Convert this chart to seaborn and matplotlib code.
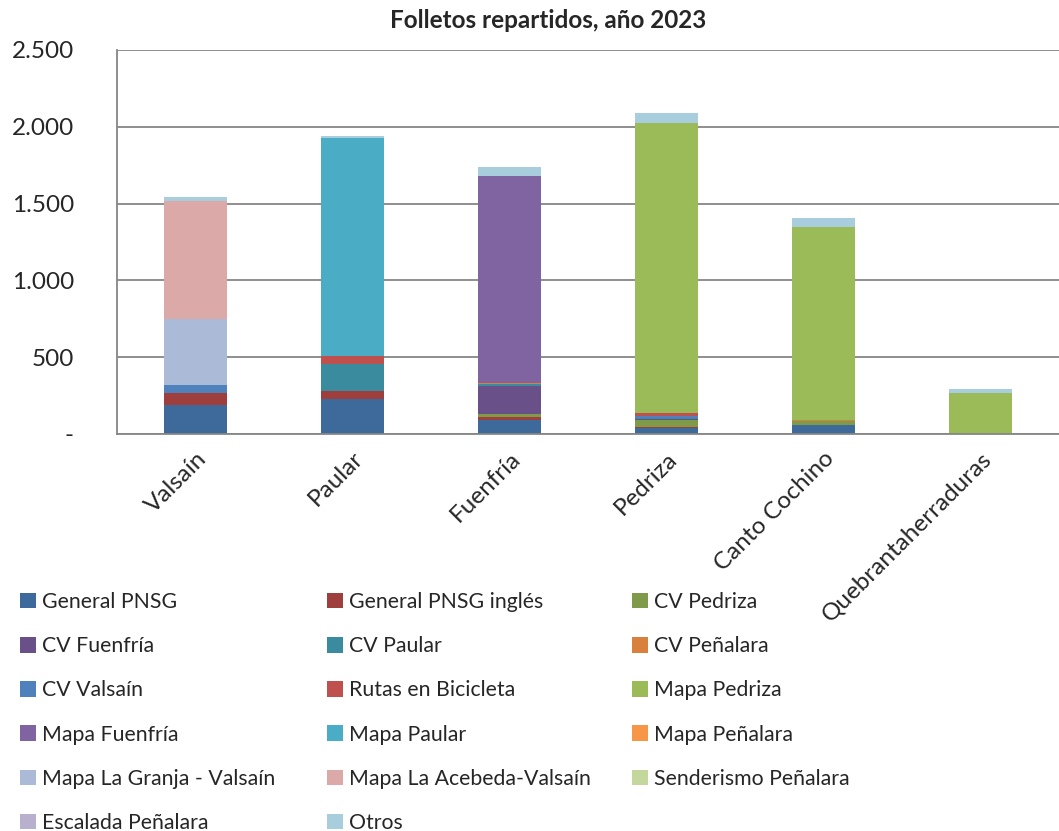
#!/usr/bin/env python3

import pandas as pd
import matplotlib
matplotlib.use("Agg")
import matplotlib.pyplot as plt
from matplotlib.patches import Patch
from matplotlib.ticker import FuncFormatter, FixedLocator
import seaborn as sns

# Data
centros = ["Valsaín", "Paular", "Fuenfría", "Pedriza", "Canto Cochino", "Quebrantaherraduras"]

general_pnsg = [192, 227, 92, 40, 57, 0]
general_pnsg_ingles = [76, 52, 21, 6, 0, 0]
cv_pedriza = [0, 0, 18, 46, 30, 0]
cv_fuenfria = [0, 0, 184, 5, 0, 0]
cv_paular = [0, 179, 8, 6, 0, 0]
cv_penalara = [0, 0, 6, 0, 3, 0]
cv_valsain = [48, 0, 5, 12, 0, 0]
rutas_bicicleta = [0, 52, 0, 21, 0, 0]
mapa_pedriza = [0, 0, 0, 1886, 1258, 266]
mapa_fuenfria = [0, 0, 1343, 0, 0, 0]
mapa_paular = [0, 1419, 0, 0, 0, 0]
mapa_penalara = [0, 0, 0, 3, 0, 0]
mapa_granja = [430, 0, 0, 0, 0, 0]
mapa_acebeda = [770, 0, 0, 0, 0, 0]
senderismo_penalara = [0, 0, 0, 0, 0, 0]
escalada_penalara = [0, 0, 0, 0, 0, 0]
otros = [24, 8, 63, 65, 59, 24]

series_names = [
    "General PNSG", "General PNSG inglés", "CV Pedriza",
    "CV Fuenfría", "CV Paular", "CV Peñalara",
    "CV Valsaín", "Rutas en Bicicleta", "Mapa Pedriza",
    "Mapa Fuenfría", "Mapa Paular", "Mapa Peñalara",
    "Mapa La Granja - Valsaín", "Mapa La Acebeda-Valsaín", "Senderismo Peñalara",
    "Escalada Peñalara", "Otros",
]
series_values = [
    general_pnsg, general_pnsg_ingles, cv_pedriza,
    cv_fuenfria, cv_paular, cv_penalara,
    cv_valsain, rutas_bicicleta, mapa_pedriza,
    mapa_fuenfria, mapa_paular, mapa_penalara,
    mapa_granja, mapa_acebeda, senderismo_penalara,
    escalada_penalara, otros,
]
colores = [
    "#3E6A9B", "#9E3F3D", "#7F9B49",
    "#6A5088", "#3A8B9E", "#D9813C",
    "#4F81BD", "#C0504D", "#9BBB59",
    "#8064A2", "#4BACC6", "#F79646",
    "#AABAD7", "#DAA9A8", "#C4D79C",
    "#B9B0CD", "#A8CEDE",
]

sns.set_style("white")
plt.rcParams["font.family"] = ["Lato", "DejaVu Sans"]

fig = plt.figure(figsize=(10.59, 8.31), dpi=100)
ax = fig.add_axes([117 / 1059, 1 - 434 / 831, 1 - 117 / 1059, (434 - 50) / 831])

# Stack the series bottom-up
bottom = [0] * len(centros)
for name, vals, col in zip(series_names, series_values, colores):
    df = pd.DataFrame({"centro": centros, "valor": vals})
    sns.barplot(data=df, x="centro", y="valor", order=centros, color=col,
                saturation=1, width=0.4, bottom=bottom, ax=ax, errorbar=None,
                linewidth=0)
    bottom = [b + v for b, v in zip(bottom, vals)]

ax.set_xlim(-0.5, len(centros) - 0.5)
ax.set_ylim(0, 2500)
ax.set_xlabel("")
ax.set_ylabel("")

# Axes styling like the spreadsheet chart
ax.yaxis.set_major_locator(FixedLocator([0, 500, 1000, 1500, 2000, 2500]))
ax.yaxis.set_major_formatter(FuncFormatter(
    lambda v, p: "-" if v == 0 else f"{int(v):,}".replace(",", ".")))
ax.grid(axis="y", color="#868686", linewidth=1.3)
ax.set_axisbelow(True)
for s in ["top", "right"]:
    ax.spines[s].set_visible(False)
for s in ["left", "bottom"]:
    ax.spines[s].set_color("#868686")
    ax.spines[s].set_linewidth(1.3)

ax.tick_params(axis="y", which="major", length=7, width=1.3, color="#868686",
               direction="out", labelsize=17.5, pad=24)
ax.set_xticks(range(len(centros)))
ax.set_xticklabels(centros, rotation=45, ha="right", rotation_mode="anchor",
                   fontsize=17.5)
ax.tick_params(axis="x", which="major", length=0, pad=10)
ax.set_xticks([i - 0.5 for i in range(len(centros) + 1)], minor=True)
ax.tick_params(axis="x", which="minor", length=7, width=1.3, color="#868686",
               direction="out")

fig.text(548 / 1059, 1 - 21 / 831, "Folletos repartidos, año 2023",
         ha="center", va="center", fontsize=17.5, fontweight="bold")

# Legend: three columns placed separately
col_x = [20, 327, 632]
for c in range(3):
    idx = list(range(c, len(series_names), 3))
    handles = [Patch(facecolor=colores[i], edgecolor="none") for i in idx]
    labels = [series_names[i] for i in idx]
    fig.legend(handles, labels, loc="upper left",
               bbox_to_anchor=(col_x[c] / 1059, 1 - 592 / 831),
               frameon=False, fontsize=15.3, handlelength=0.75, handleheight=0.75,
               handletextpad=0.3, borderpad=0, borderaxespad=0,
               labelspacing=1.14)

if ax.legend_ is not None:
    ax.legend_.remove()

fig.savefig("out.png", dpi=100)
